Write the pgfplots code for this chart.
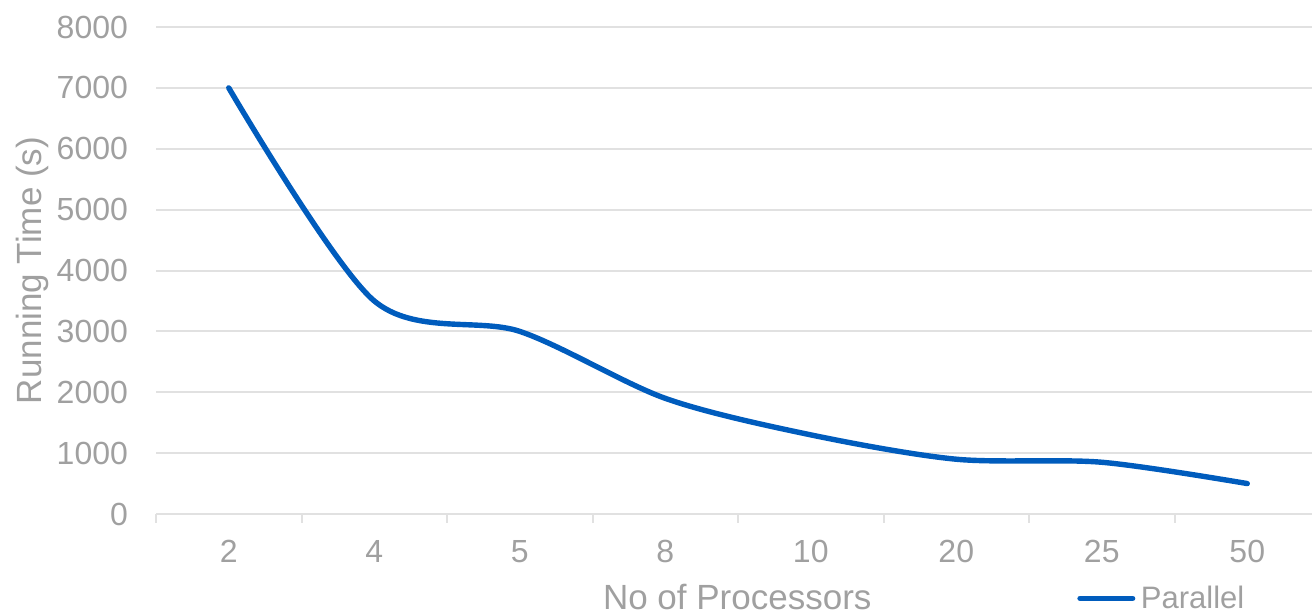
\documentclass[border=0pt]{standalone}
\usepackage{fontspec}
\setmainfont{Liberation Sans}
\usepackage{pgfplots}
\pgfplotsset{compat=1.18}
\definecolor{txtgray}{RGB}{160,160,160}
\definecolor{gridgray}{RGB}{225,225,225}
\definecolor{lineblue}{RGB}{0,92,189}
\begin{document}
\begin{tikzpicture}
\begin{axis}[
  name=ax,
  scale only axis,
  width=578pt, height=243.5pt,
  xmin=-0.5, xmax=7.445,
  ymin=0, ymax=8000,
  ytick={0,1000,...,8000},
  xtick={0,...,7},
  xticklabels={2,4,5,8,10,20,25,50},
  minor xtick={-0.5,0.5,...,7.5},
  axis x line*=bottom,
  axis y line*=left,
  y axis line style={draw=none},
  x axis line style={-, draw=gridgray, line width=1pt},
  ymajorgrids,
  major grid style={draw=gridgray, line width=1pt},
  major tick length=0pt,
  minor tick length=4.5pt,
  tick align=outside,
  minor x tick style={draw=gridgray, line width=1pt},
  ytick style={draw=none},
  scaled y ticks=false,
  /pgf/number format/1000 sep={},
  /pgf/number format/assume math mode=true,
  tick label style={font=\fontsize{16}{19}\selectfont, text=txtgray},
  yticklabel style={anchor=east, inner sep=0pt, xshift=-13.85pt},
  xticklabel style={anchor=base, inner sep=0pt, yshift=-24.2pt},
  xlabel={No of Processors},
  ylabel={Running Time (s)},
  label style={font=\fontsize{17.5}{21}\selectfont, text=txtgray},
  xlabel style={at={(axis description cs:0.5028,0)}, anchor=base, inner sep=0pt, yshift=-47.5pt},
  ylabel style={at={(axis description cs:-0.0926,0.5)}, anchor=south, inner sep=0pt, rotate=0},
  legend style={at={(axis description cs:0.797,-0.1731)}, anchor=west, draw=none, fill=none,
    inner sep=0pt, outer sep=0pt, nodes={inner sep=0pt}, column sep=2.8pt,
    font=\fontsize{15.5}{18}\selectfont, text=txtgray},
  legend image code/.code={\draw[#1] (0pt,0pt) -- (26.3pt,0pt);},
]
\addplot[lineblue, line width=2.7pt, smooth, tension=0.5, line cap=round, line join=round, mark=none]
  coordinates {(0,7000) (1,3500) (2,3000) (3,1900) (4,1300) (5,900) (6,850) (7,500)};
\addlegendentry{Parallel}
\end{axis}
\pgfresetboundingbox
\path[use as bounding box] ([xshift=-78pt,yshift=-50pt]ax.south west) rectangle ([yshift=13.5pt]ax.north east);
\end{tikzpicture}
\end{document}
